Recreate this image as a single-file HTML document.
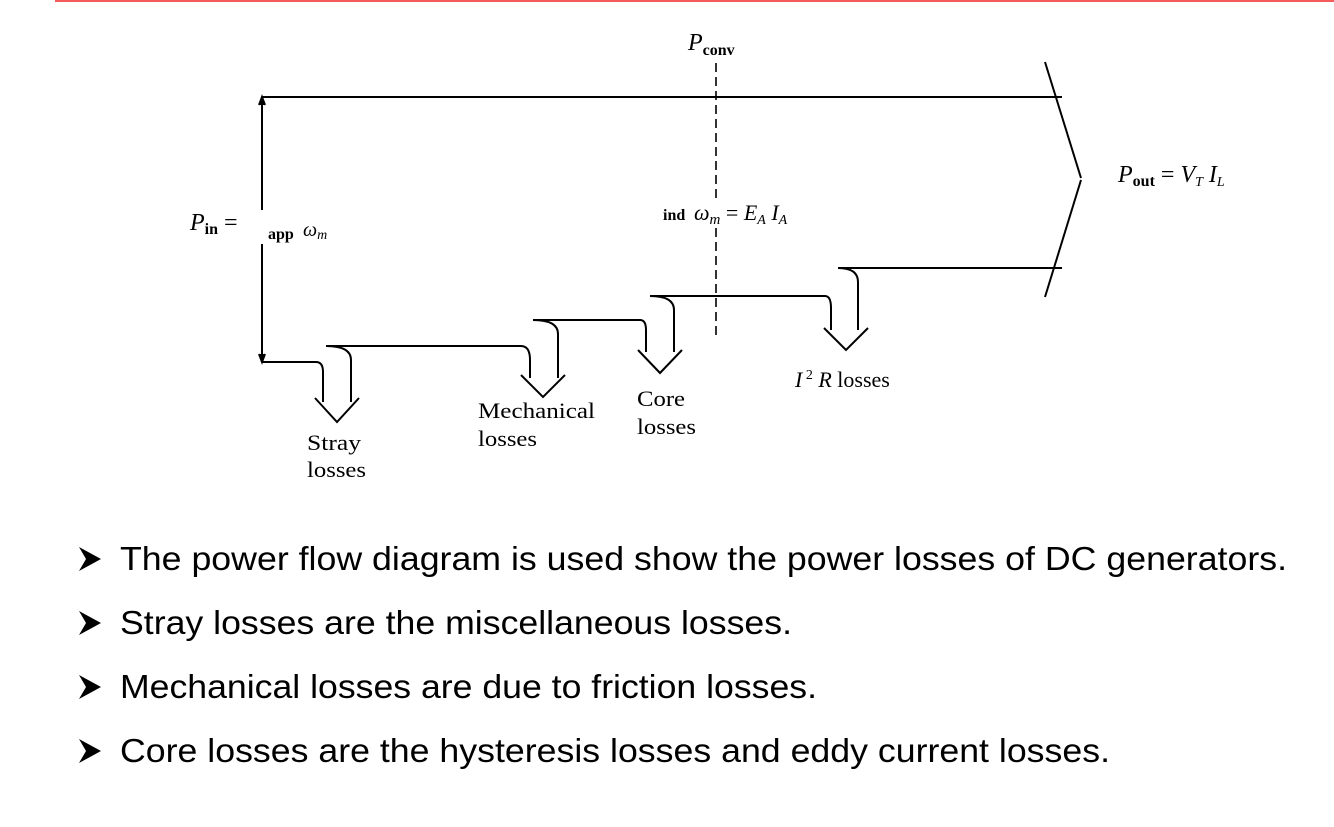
<!DOCTYPE html>
<html><head><meta charset="utf-8"><style>
html,body{margin:0;padding:0;background:#fff;}
svg{display:block;}
</style></head><body>
<svg width="1334" height="827" viewBox="0 0 1334 827" xmlns="http://www.w3.org/2000/svg">
<rect x="55" y="0" width="1279" height="2" fill="#f45b5b"/>
<g stroke="#000" stroke-width="2" fill="none">
  <line x1="262" y1="97" x2="1062" y2="97"/>
  <line x1="262" y1="100" x2="262" y2="210"/>
  <line x1="262" y1="244" x2="262" y2="360"/>
  <path d="M259,105 L262,97 L265,105" fill="#000"/>
  <path d="M259,354 L262,362 L265,354" fill="#000"/>
  <line x1="1045" y1="62" x2="1081" y2="178"/>
  <line x1="1081" y1="180" x2="1045" y2="297"/>
  <line x1="838" y1="268" x2="1062" y2="268"/>
  <path d="M262,362 L316,362 Q323,362 323,372 L323,402"/>
  <path d="M326,346 Q351,346 351,360 L351,402"/>
  <path d="M315,398 L337,422 L359,398"/>
  <line x1="326" y1="346" x2="521" y2="346"/>
  <path d="M521,346 Q530,346 530,360 L530,378"/>
  <path d="M533,320 Q558,320 558,334 L558,378"/>
  <path d="M521,375 L543,397 L565,375"/>
  <line x1="533" y1="320" x2="640" y2="320"/>
  <path d="M640,320 Q646,320 646,330 L646,352"/>
  <path d="M650,296 Q674,296 674,310 L674,352"/>
  <path d="M638,350 L660,373 L682,350"/>
  <line x1="650" y1="296" x2="825" y2="296"/>
  <path d="M825,296 Q831,296 831,308 L831,330"/>
  <path d="M838,268 Q858,268 858,282 L858,330"/>
  <path d="M824,328 L846,350 L868,328"/>
  <line x1="716" y1="63" x2="716" y2="200" stroke-dasharray="9,5" stroke-width="1.6"/>
  <line x1="716" y1="228" x2="716" y2="337" stroke-dasharray="9,5" stroke-width="1.6"/>
</g>
<g font-family="Liberation Serif, serif" fill="#000" font-size="22">
  <text x="688" y="50" font-style="italic" font-size="24">P<tspan font-style="normal" font-size="16" dy="5" font-weight="bold">conv</tspan></text>
  <text x="663" y="220" font-size="16" font-weight="bold">ind</text>
  <text x="694" y="220" font-style="italic">ω<tspan font-size="15" dy="4">m</tspan><tspan dy="-4" font-style="normal"> = </tspan>E<tspan font-size="14" dy="4">A</tspan><tspan dy="-4"> I</tspan><tspan font-size="14" dy="4">A</tspan></text>
  <text x="190" y="230" font-style="italic" font-size="24">P<tspan font-style="normal" font-size="16" dy="4" font-weight="bold">in</tspan><tspan font-style="normal" dy="-4"> =</tspan></text>
  <text x="268" y="239" font-size="16" font-weight="bold">app</text>
  <text x="303" y="236" font-style="italic" font-size="20">ω<tspan font-size="14" dy="3">m</tspan></text>
  <text x="1118" y="182" font-style="italic" font-size="24">P<tspan font-style="normal" font-size="16" dy="4" font-weight="bold">out</tspan><tspan font-style="normal" dy="-4"> = </tspan>V<tspan font-size="14" dy="4">T</tspan><tspan dy="-4"> I</tspan><tspan font-size="14" dy="4">L</tspan></text>
  <text x="307" y="450" textLength="54" lengthAdjust="spacingAndGlyphs">Stray</text>
  <text x="307" y="477" textLength="59" lengthAdjust="spacingAndGlyphs">losses</text>
  <text x="478" y="418" textLength="117" lengthAdjust="spacingAndGlyphs">Mechanical</text>
  <text x="478" y="446" textLength="59" lengthAdjust="spacingAndGlyphs">losses</text>
  <text x="637" y="406" textLength="48" lengthAdjust="spacingAndGlyphs">Core</text>
  <text x="637" y="434" textLength="59" lengthAdjust="spacingAndGlyphs">losses</text>
  <text x="795" y="387"><tspan font-style="italic">I</tspan><tspan font-size="14" dy="-8"> 2</tspan><tspan dy="8" font-style="italic"> R</tspan> losses</text>
</g>
<g fill="#000">
  <path d="M79,547 L101,559 L79,571 L86,559 Z"/>
  <path d="M79,611 L101,623 L79,635 L86,623 Z"/>
  <path d="M79,675 L101,687 L79,699 L86,687 Z"/>
  <path d="M79,739 L101,751 L79,763 L86,751 Z"/>
</g>
<g font-family="Liberation Sans, Arial, sans-serif" font-size="33" fill="#000">
  <text x="120" y="570" textLength="1167" lengthAdjust="spacingAndGlyphs">The power flow diagram is used show the power losses of DC generators.</text>
  <text x="120" y="634" textLength="672" lengthAdjust="spacingAndGlyphs">Stray losses are the miscellaneous losses.</text>
  <text x="120" y="698" textLength="697" lengthAdjust="spacingAndGlyphs">Mechanical losses are due to friction losses.</text>
  <text x="120" y="762" textLength="990" lengthAdjust="spacingAndGlyphs">Core losses are the hysteresis losses and eddy current losses.</text>
</g>
</svg>
</body></html>
